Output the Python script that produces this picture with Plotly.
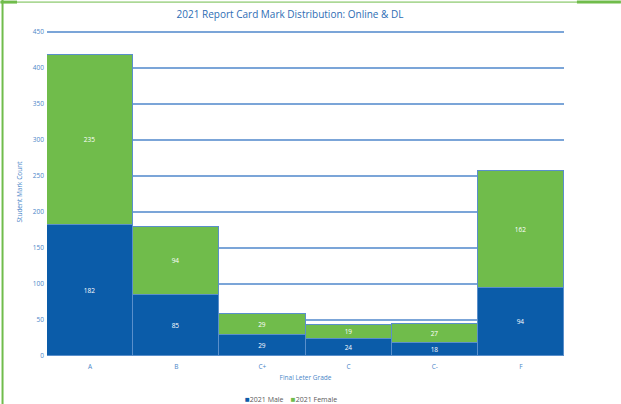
import plotly.graph_objects as go

# Grade categories and counts per series
grades = ["A", "B", "C+", "C", "C-", "F"]
male = [182, 85, 29, 24, 18, 94]
female = [235, 94, 29, 19, 27, 162]
series_names = ["2021 Male", "2021 Female"]

blue = "#0B5CA9"
green = "#70BC4B"
text_blue = "#4A86C8"
edge = "#5A8FCB"

fig = go.Figure()

for name, vals, col in [(series_names[0], male, blue), (series_names[1], female, green)]:
    fig.add_trace(go.Bar(
        x=grades, y=vals, name=name, showlegend=False,
        marker=dict(color=col, line=dict(color=edge, width=1)),
        text=vals, textposition="inside", insidetextanchor="middle",
        textangle=0, constraintext="none",
        textfont=dict(color="white", size=6.5, family="Open Sans"),
    ))

# compact legend like the original: square swatch right against the label
legend_text = "&nbsp;&nbsp;&nbsp;&nbsp;".join(
    f"<span style='color:{c};font-size:8px'>■</span>{n}"
    for n, c in zip(series_names, [blue, green])
)
fig.add_annotation(text=legend_text, xref="paper", yref="paper",
                   x=0.472, y=-0.131, xanchor="center", yanchor="middle",
                   showarrow=False, font=dict(size=7, color="#595959", family="Open Sans"))

# green frame fragments seen around the original image
fig.add_shape(type="line", xref="paper", yref="paper",
              x0=-0.086, x1=-0.086, y0=1.1, y1=-0.16,
              line=dict(color=green, width=2))
fig.add_shape(type="line", xref="paper", yref="paper",
              x0=-0.09, x1=1.11, y0=1.079, y1=1.079,
              line=dict(color=green, width=1))
fig.add_shape(type="line", xref="paper", yref="paper",
              x0=-0.09, x1=-0.058, y0=1.079, y1=1.079,
              line=dict(color=green, width=3))
fig.add_shape(type="line", xref="paper", yref="paper",
              x0=1.025, x1=1.11, y0=1.079, y1=1.079,
              line=dict(color=green, width=3))

fig.update_layout(
    width=621, height=404,
    barmode="stack", bargap=0,
    margin=dict(l=47, r=57, t=28, b=48, autoexpand=False),
    paper_bgcolor="white", plot_bgcolor="white",
    showlegend=False,
    title=dict(text="2021 Report Card Mark Distribution: Online & DL",
               x=0.467, xref="container", xanchor="center",
               y=0.963, yanchor="middle",
               font=dict(size=10, color="#2E6DB4", family="Open Sans")),
    font=dict(family="Open Sans", color=text_blue),
    xaxis=dict(title=dict(text="Final Leter Grade", font=dict(size=6.5, color=text_blue), standoff=5),
               tickfont=dict(size=6.5, color=text_blue), showgrid=False,
               showline=False, ticks="", ticklabelstandoff=5),
    yaxis=dict(title=dict(text="Student Mark Count", font=dict(size=6.5, color=text_blue), standoff=9),
               range=[0, 455], tickvals=list(range(0, 451, 50)),
               tickfont=dict(size=6.5, color=text_blue),
               showgrid=True, gridcolor="#7BA5D8", gridwidth=1.6,
               zeroline=False, ticks="", ticklabelstandoff=2),
)

# drop the browser's default page margin so the figure sits at the corner
fig.write_html("out.html", config={"displayModeBar": False},
               post_script="document.body.style.margin='0';")
